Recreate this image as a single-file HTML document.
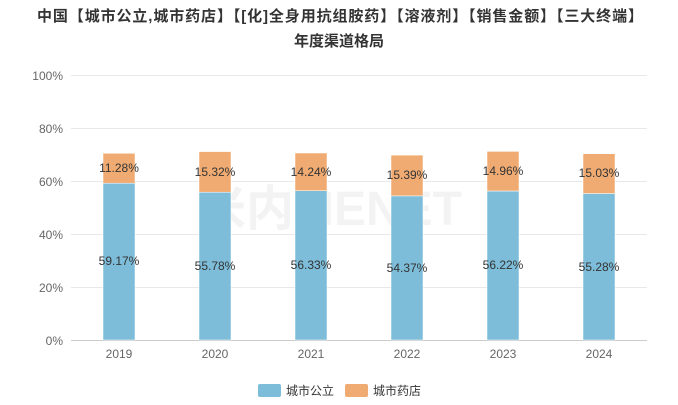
<!DOCTYPE html>
<html><head><meta charset="utf-8"><style>
body{margin:0;width:678px;height:400px;background:#fff;overflow:hidden;font-family:"Liberation Sans","Noto Sans CJK SC",sans-serif}
</style></head><body>
<svg width="678" height="400" xmlns="http://www.w3.org/2000/svg" font-family="Liberation Sans, Noto Sans CJK SC, sans-serif">
<text x="37" y="21" font-size="15" font-weight="bold" fill="#333" textLength="606" lengthAdjust="spacing">中国【城市公立,城市药店】【[化]全身用抗组胺药】【溶液剂】【销售金额】【三大终端】</text>
<text x="339" y="46" text-anchor="middle" font-size="15" font-weight="bold" fill="#333">年度渠道格局</text>
<g stroke="#e8e8e8" stroke-width="1">
<line x1="71" x2="647" y1="75.5" y2="75.5"/><line x1="71" x2="647" y1="128.5" y2="128.5"/>
<line x1="71" x2="647" y1="181.5" y2="181.5"/><line x1="71" x2="647" y1="234.5" y2="234.5"/>
<line x1="71" x2="647" y1="287.5" y2="287.5"/>
</g>
<line x1="71" x2="647" y1="340.5" y2="340.5" stroke="#ccc"/>
<g font-size="12" fill="#666" text-anchor="end">
<text x="63" y="80">100%</text><text x="63" y="133">80%</text><text x="63" y="186">60%</text>
<text x="63" y="239">40%</text><text x="63" y="292">20%</text><text x="63" y="345">0%</text>
</g>
<g font-size="12" fill="#666" text-anchor="middle">
<text x="119" y="358">2019</text><text x="215" y="358">2020</text><text x="311" y="358">2021</text>
<text x="407" y="358">2022</text><text x="503" y="358">2023</text><text x="599" y="358">2024</text>
</g>
<text x="330" y="225" text-anchor="middle" font-size="48" font-weight="bold" fill="#f3f3f3">米内MENET</text>
<g stroke="#fff" stroke-width="0.5">
<rect x="103" y="183.2" width="32" height="156.8" fill="#7dbdd9"/><rect x="103" y="153.3" width="32" height="29.9" fill="#f0ab72"/>
<rect x="199" y="192.2" width="32" height="147.8" fill="#7dbdd9"/><rect x="199" y="151.6" width="32" height="40.6" fill="#f0ab72"/>
<rect x="295" y="190.7" width="32" height="149.3" fill="#7dbdd9"/><rect x="295" y="153.0" width="32" height="37.7" fill="#f0ab72"/>
<rect x="391" y="195.9" width="32" height="144.1" fill="#7dbdd9"/><rect x="391" y="155.1" width="32" height="40.8" fill="#f0ab72"/>
<rect x="487" y="191.0" width="32" height="149.0" fill="#7dbdd9"/><rect x="487" y="151.4" width="32" height="39.6" fill="#f0ab72"/>
<rect x="583" y="193.5" width="32" height="146.5" fill="#7dbdd9"/><rect x="583" y="153.7" width="32" height="39.8" fill="#f0ab72"/>
</g>
<g font-size="12" fill="#333" text-anchor="middle">
<text x="119" y="265">59.17%</text><text x="119" y="172">11.28%</text>
<text x="215" y="270">55.78%</text><text x="215" y="176">15.32%</text>
<text x="311" y="269">56.33%</text><text x="311" y="176">14.24%</text>
<text x="407" y="272">54.37%</text><text x="407" y="179">15.39%</text>
<text x="503" y="269">56.22%</text><text x="503" y="175">14.96%</text>
<text x="599" y="271">55.28%</text><text x="599" y="177">15.03%</text>
</g>
<rect x="258" y="384" width="23" height="13" rx="2" fill="#7dbdd9"/>
<text x="286" y="395" font-size="12" fill="#333">城市公立</text>
<rect x="345" y="384" width="23" height="13" rx="2" fill="#f0ab72"/>
<text x="373" y="395" font-size="12" fill="#333">城市药店</text>
</svg>
</body></html>
